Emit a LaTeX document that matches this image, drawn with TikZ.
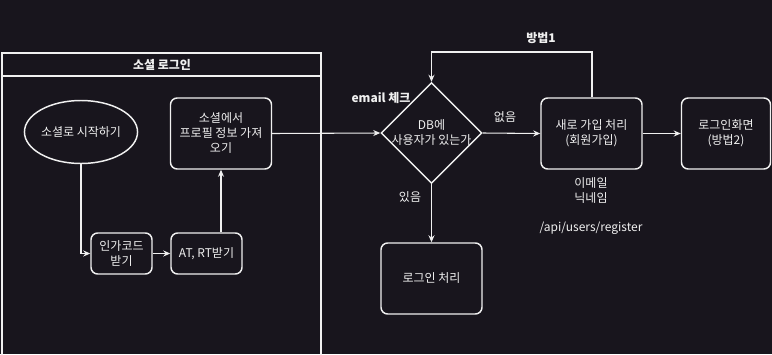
\documentclass[tikz,border=0pt]{standalone}
\usepackage{fontspec}
\setmainfont{Noto Sans CJK KR}
\usetikzlibrary{arrows.meta,shapes.geometric,calc}
\definecolor{bg}{RGB}{24,21,29}
\definecolor{fg}{RGB}{240,240,240}
\newlength\px \setlength\px{0.75pt}
\begin{document}
\begin{tikzpicture}[x=0.75pt,y=-0.75pt,
  every node/.style={font=\fontsize{9pt}{11.25pt}\selectfont, text=fg, align=center, inner sep=0pt},
  box/.style={draw=fg, line width=1.1pt, rounded corners=5pt, fill=bg},
  arr/.style={draw=fg, line width=0.8pt, -{Stealth[length=5.25pt,width=4.5pt]}},
  ln/.style={draw=fg, line width=0.8pt}]
\fill[bg] (0,0) rectangle (772,354);
\useasboundingbox (0,0) rectangle (772,354);
% container
\draw[fg, line width=0.8pt] (2,53) rectangle (321,356);
\draw[fg, line width=0.8pt] (2,76) -- (321,76);
\node[font=\fontsize{9pt}{11pt}\selectfont\bfseries] (title) at (162,65) {소셜 로그인};
% nodes
\node[draw=fg, line width=1.1pt, ellipse, minimum width=100\px, minimum height=63\px] (start) at (81,132) {소셜로 시작하기};
\node[box, minimum width=101\px, minimum height=71\px] (prof) at (221,133.5) {소셜에서\\프로필 정보 가져\\오기};
\node[box, minimum width=61\px, minimum height=41\px] (code) at (121.5,253.5) {인가코드\\받기};
\node[box, minimum width=71\px, minimum height=41\px] (at) at (206.5,253.5) {AT, RT받기};
\node[draw=fg, line width=1.1pt, diamond, aspect=1, minimum width=101\px, minimum height=101\px] (db) at (431.5,133) {};
\node (dbt) at (431.5,133) {DB에\\사용자가 있는가};
\node[box, minimum width=101\px, minimum height=71\px] (join) at (591.5,133.5) {새로 가입 처리\\(회원가입)};
\node[box, minimum width=89\px, minimum height=71\px] (lscr) at (726,133.5) {로그인화면\\(방법2)};
\node[box, minimum width=101\px, minimum height=71\px] (login) at (431.5,278.5) {로그인 처리};
% labels
\node[font=\fontsize{9pt}{11pt}\selectfont\bfseries] (emailchk) at (381,98) {email 체크};
\node (yes) at (410,197) {있음};
\node (no) at (505,117) {없음};
\node[font=\fontsize{9pt}{11pt}\selectfont\bfseries] (m1) at (541,38) {방법1};
\node (fields) at (591,190.5) {이메일\\닉네임};
\node (api) at (591,228) {/api/users/register};
% connectors
\coordinate (bend) at (81,253.5);
\draw[arr] (start.south) -- (bend) -- (code.west);
\draw[arr] (code.east) -- (at.west);
\draw[arr] (at.north -| prof.south) -- (prof.south);
\draw[arr] (prof.east) -- (db.west);
\draw[arr] (db.east) -- (join.west);
\draw[arr] (join.east) -- (lscr.west);
\draw[arr] (db.south) -- (login.north);
\coordinate (c1) at (592,52);
\coordinate (c2) at (431.5,52);
\draw[arr] (join.north -| c1) -- (c1) -- (c2) -- (db.north);
\end{tikzpicture}
\end{document}
